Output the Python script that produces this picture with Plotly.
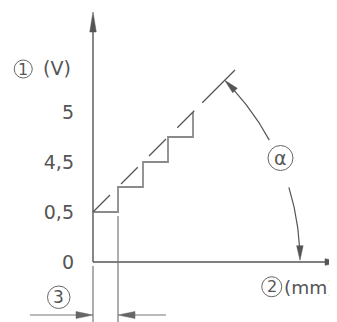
import numpy as np
import plotly.graph_objects as go

# ---- data (schematic units: 1 unit = one step) ----
tick_vals = [0, 2, 4, 6]
tick_text = ["0", "0,5", "4,5", "5"]

stair_x = [0, 1, 1, 2, 2, 3, 3, 4, 4]
stair_y = [2, 2, 3, 3, 4, 4, 5, 5, 6]

diag_offset = 2.0                      # dashed line y = x + offset
diag_x0 = [0.0, 1.12, 2.24, 3.37, 4.37]
diag_x1 = [0.68, 1.79, 2.92, 4.05, 5.68]

arc_center = (-2.0, 0.0)
arc_radius = 10.28
arc_upper_deg = (28.3, 45.0)
arc_lower_deg = (16.9, 0.4)

yaxis_top = 10.0
xaxis_end = 10.08
ext_x = [0.0, 1.0]
ext_top = [-0.16, 1.84]
dim_y = -2.12
dim_left_start = -2.52
dim_right_end = 2.92

# page has an 8px body margin; figure is 329x314 so it fits in the 337x322 window
W, H = 329, 314
X0PX, Y0PX = 85, 254       # figure pixel position of data origin
UNIT = 25
X_RANGE = [-X0PX / UNIT, (W - X0PX) / UNIT]
Y_RANGE = [(Y0PX - H) / UNIT, Y0PX / UNIT]

AX = "#555555"
STAIR = "#8a8a8a"
TXT = "#555555"
FONT = "DejaVu Sans"

fig = go.Figure()


def line(xs, ys, color=AX, width=1.3, dash=None):
    fig.add_trace(go.Scatter(x=xs, y=ys, mode="lines", hoverinfo="skip",
                             line=dict(color=color, width=width, dash=dash),
                             showlegend=False))


def arrow(tip, direction, length, half, color=AX):
    d = np.array(direction, float)
    d = d / np.linalg.norm(d)
    n = np.array([-d[1], d[0]])
    t = np.array(tip, float)
    b = t - d * length
    p1 = b + n * half
    p2 = b - n * half
    fig.add_trace(go.Scatter(x=[t[0], p1[0], p2[0], t[0]], y=[t[1], p1[1], p2[1], t[1]],
                             mode="lines", fill="toself", fillcolor=color,
                             line=dict(color=color, width=0.5), hoverinfo="skip",
                             showlegend=False))


# axes
line([0, 0], [0, yaxis_top - 0.6], AX, 1.4)
arrow((0, yaxis_top), (0, 1), 0.8, 0.13)
line([0, xaxis_end - 0.6], [0, 0], AX, 1.4)
arrow((xaxis_end, 0), (1, 0), 0.8, 0.13)

# extension lines
for ex, et in zip(ext_x, ext_top):
    line([ex, ex], [et, Y_RANGE[0]], "#777777", 1.2)

# dimension arrows
line([dim_left_start, ext_x[0] - 0.5], [dim_y, dim_y], "#777777", 1.2)
arrow((ext_x[0], dim_y), (1, 0), 0.68, 0.14, "#666666")
line([ext_x[1] + 0.5, dim_right_end], [dim_y, dim_y], "#777777", 1.2)
arrow((ext_x[1], dim_y), (-1, 0), 0.68, 0.14, "#666666")

# staircase
line(stair_x, stair_y, STAIR, 1.8)

# dashed diagonal
dx, dy = [], []
for a, b in zip(diag_x0, diag_x1):
    dx += [a, b, None]
    dy += [a + diag_offset, b + diag_offset, None]
line(dx, dy, AX, 1.2)

# angle arcs
cx, cy = arc_center
for (a0, a1), sgn in ((arc_upper_deg, 1), (arc_lower_deg, -1)):
    th = np.radians(np.linspace(a0, a1, 60))
    ax_ = cx + arc_radius * np.cos(th)
    ay_ = cy + arc_radius * np.sin(th)
    t_end = th[-1]
    tip = (ax_[-1], ay_[-1])
    d = (-np.sin(t_end) * sgn, np.cos(t_end) * sgn)
    line(list(ax_[:-4]), list(ay_[:-4]), AX, 1.2)
    arrow(tip, d, 0.58, 0.13)

# circled labels
circles = [
    # cx, cy, r, text, fontsize
    (-2.79, 7.72, 0.36, "1", 16),
    (7.15, -0.99, 0.40, "2", 16),
    (-1.37, -1.41, 0.45, "3", 17),
    (7.50, 4.16, 0.50, "α", 19),
]
for (ccx, ccy, r, t, fs) in circles:
    fig.add_shape(type="circle", xref="x", yref="y", x0=ccx - r, x1=ccx + r,
                  y0=ccy - r, y1=ccy + r, line=dict(color="#666666", width=1))
    fig.add_annotation(x=ccx, y=ccy, text=t, showarrow=False, xref="x", yref="y",
                       font=dict(family=FONT, size=fs, color=TXT))

fig.add_annotation(x=-1.44, y=7.76, text="(V)", showarrow=False,
                   font=dict(family=FONT, size=19, color=TXT))
fig.add_annotation(x=7.56, y=-1.0, text="(mm)", showarrow=False, xanchor="left",
                   font=dict(family=FONT, size=18.5, color=TXT))

fig.update_xaxes(range=X_RANGE, visible=False, fixedrange=True)
fig.update_yaxes(range=Y_RANGE, tickvals=tick_vals, ticktext=tick_text,
                 anchor="free", position=X0PX / W, showline=False, showgrid=False,
                 zeroline=False, ticks="", ticklabelstandoff=19, automargin=False,
                 tickfont=dict(family=FONT, size=19, color=TXT), fixedrange=True)
fig.update_layout(width=W, height=H, margin=dict(l=0, r=0, t=0, b=0),
                  plot_bgcolor="white", paper_bgcolor="white", showlegend=False)

fig.write_html("out.html")
